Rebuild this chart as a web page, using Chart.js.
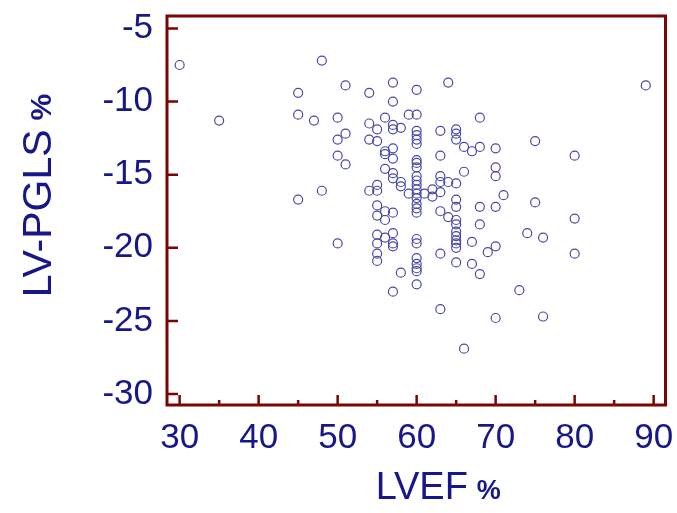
<!DOCTYPE html>
<html>
<head>
<meta charset="utf-8">
<script src="https://cdn.jsdelivr.net/npm/chart.js@4.4.1/dist/chart.umd.min.js"></script>
<style>
html,body{margin:0;padding:0;background:#fff;}
#wrap{width:677px;height:513px;position:relative;}
</style>
</head>
<body>
<div id="wrap"><canvas id="c" width="677" height="513"></canvas></div>
<script>
// LVEF (%) of each patient
const lvef = [
  30,35,45,45,45,47,48,48,
  50,50,50,50,
  51,51,51,
  54,54,54,54,
  55,55,55,55,55,55,55,55,55,55,
  56,56,56,56,56,56,56,
  57,57,57,57,57,57,57,57,57,57,57,57,57,
  58,58,58,58,
  59,59,
  60,60,60,60,60,60,60,60,60,60,60,60,60,60,60,60,60,60,60,60,60,60,60,60,60,
  61,62,62,
  63,63,63,63,63,63,63,63,
  64,64,64,
  65,65,65,65,65,65,65,65,65,65,65,65,65,65,
  66,66,66,
  67,67,67,
  68,68,68,68,68,
  69,
  70,70,70,70,70,70,
  71,73,74,75,75,76,76,80,80,80,89
];
// LV-PGLS (%) of each patient, same order
const pgls = [
  -7.5,-11.3,-9.4,-10.9,-16.7,-11.3,-7.2,-16.1,
  -11.1,-12.6,-13.7,-19.7,
  -8.9,-12.2,-14.3,
  -9.4,-11.5,-12.6,-16.1,
  -11.9,-12.7,-15.7,-16.1,-17.1,-17.8,-19.1,-19.7,-20.4,-20.9,
  -11.1,-13.4,-13.6,-14.6,-17.5,-18.1,-19.3,
  -8.7,-10.0,-11.6,-11.9,-13.2,-13.9,-14.9,-15.25,-17.6,-19.0,-19.7,-19.9,-23.0,
  -11.8,-15.5,-15.8,-21.7,
  -10.9,-16.3,
  -9.2,-10.9,-12.0,-12.3,-12.6,-12.9,-14.0,-14.2,-14.5,-15.1,-15.4,-15.7,-16.0,-16.3,-16.6,-17.0,-17.3,-17.6,-19.4,-19.7,-20.7,-21.1,-21.4,-21.6,-22.5,
  -16.3,-16.0,-16.5,
  -12.0,-13.7,-15.1,-15.5,-16.2,-17.5,-20.4,-24.2,
  -8.7,-15.5,-17.9,
  -11.9,-12.2,-12.6,-15.6,-16.7,-17.2,-18.1,-18.4,-18.9,-19.2,-19.5,-19.7,-20.0,-21.0,
  -13.1,-14.8,-26.9,
  -13.4,-19.6,-21.1,
  -11.1,-13.1,-17.2,-18.4,-21.8,
  -20.3,
  -13.2,-14.5,-15.1,-17.2,-19.9,-24.8,
  -16.4,-22.9,-19.0,-12.7,-16.9,-19.3,-24.7,-13.7,-18.0,-20.4,-8.9
];
const xTicks = [30,40,50,60,70,80,90];
const xMinorTicks = [35,45,55,65,75,85];
const yTicks = [-5,-10,-15,-20,-25,-30];
const xTitle = ['LVEF', '%'];
const yTitle = ['LV-PGLS', '%'];

const points = lvef.map((x,i)=>({x:x, y:pgls[i]}));
const axisColor = '#7a0505';
const textColor = '#17178a';
const FAM = '"Liberation Sans", Arial, sans-serif';

function drawTitle(ctx, parts, cx, cy, rot, s1, s2){
  const f1 = s1 + 'px ' + FAM, f2 = 'bold ' + s2 + 'px ' + FAM, gap = 9;
  ctx.save();
  ctx.font = f1; const w1 = ctx.measureText(parts[0]).width;
  ctx.font = f2; const w2 = ctx.measureText(parts[1]).width;
  const total = w1 + gap + w2;
  ctx.translate(cx, cy);
  if (rot) ctx.rotate(-Math.PI/2);
  ctx.fillStyle = textColor;
  ctx.textBaseline = 'alphabetic';
  ctx.textAlign = 'left';
  const base = s1 * 0.36;
  ctx.font = f1; ctx.fillText(parts[0], -total/2, base);
  ctx.font = f2; ctx.fillText(parts[1], -total/2 + w1 + gap, base);
  ctx.restore();
}

const frame = {
  id:'frame',
  afterDatasetsDraw(chart){
    const {ctx, chartArea:a, scales} = chart;
    const xs = scales.x, ys = scales.y;
    ctx.save();
    ctx.strokeStyle = axisColor;
    ctx.lineWidth = 3;
    ctx.strokeRect(a.left, a.top, a.right-a.left, a.bottom-a.top);
    ctx.lineWidth = 2.5;
    ctx.beginPath();
    xTicks.forEach(v=>{const p=xs.getPixelForValue(v); ctx.moveTo(p,a.bottom); ctx.lineTo(p,a.bottom-10);});
    xMinorTicks.forEach(v=>{const p=xs.getPixelForValue(v); ctx.moveTo(p,a.bottom); ctx.lineTo(p,a.bottom-5);});
    yTicks.forEach(v=>{const p=ys.getPixelForValue(v); ctx.moveTo(a.left,p); ctx.lineTo(a.left+11,p);});
    ctx.stroke();
    ctx.restore();
    const cxPlot = (a.left + a.right)/2;
    drawTitle(ctx, xTitle, cxPlot + 22, a.bottom + 80, false, 38, 27);
    drawTitle(ctx, yTitle, 36, (a.top + a.bottom)/2 - 15, true, 41, 30);
  }
};

new Chart(document.getElementById('c'), {
  type:'scatter',
  data:{datasets:[{
    data:points,
    pointStyle:'circle',
    pointRadius:4.5,
    pointBorderWidth:1.2,
    borderColor:'#4848a8',
    backgroundColor:'rgba(0,0,0,0)'
  }]},
  options:{
    responsive:false,
    animation:false,
    layout:{padding:{top:16,right:11.5,left:0,bottom:0}},
    plugins:{legend:{display:false},tooltip:{enabled:false}},
    scales:{
      x:{
        type:'linear', min:28.4, max:91.5,
        afterBuildTicks(s){ s.ticks = xTicks.map(v=>({value:v})); },
        afterFit(s){ s.height = 108; s.paddingLeft = 0; s.paddingRight = 0; },
        grid:{display:false, drawTicks:false},
        border:{display:false},
        ticks:{color:textColor, font:{family:FAM, size:35}, padding:12, maxRotation:0, autoSkip:false},
        title:{display:false}
      },
      y:{
        type:'linear', min:-30.75, max:-4.15,
        afterBuildTicks(s){ s.ticks = yTicks.map(v=>({value:v})); },
        afterFit(s){ s.width = 167; s.paddingTop = 0; s.paddingBottom = 0; },
        grid:{display:false, drawTicks:false},
        border:{display:false},
        ticks:{color:textColor, font:{family:FAM, size:35}, padding:14, autoSkip:false},
        title:{display:false}
      }
    }
  },
  plugins:[frame]
});
</script>
</body>
</html>
